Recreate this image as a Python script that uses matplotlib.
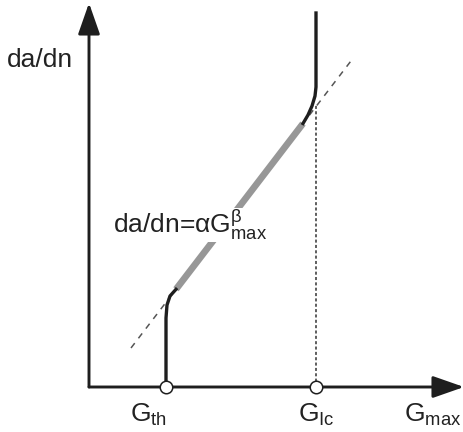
import matplotlib
matplotlib.use("Agg")
import matplotlib.pyplot as plt
import numpy as np

plt.rcParams['font.family'] = ['Liberation Sans', 'DejaVu Sans']
plt.rcParams['mathtext.fontset'] = 'custom'
plt.rcParams['mathtext.rm'] = 'Liberation Sans'
plt.rcParams['mathtext.it'] = 'Liberation Sans:italic'
plt.rcParams['mathtext.sf'] = 'Liberation Sans'

# schematic coordinates (axis origin at 0,0)
G_th = 77
G_ic = 227
x_end = 375
y_end = 384

# Paris-type line: da/dn = a + b*G (in log space)
line_a = -15.8
line_b = 1.305
dash_x = [42, 265]
gray_x = [87, 214]

# threshold / fracture-toughness transitions
low_x = [G_th, G_th, 78, 81, 87]
low_y = [0, 69, 82, 91, 97.7]
up_x = [214, 219, 223, 226, 227, 227]
up_y = [263.5, 272, 281, 291, 300, 374]

ink = '#1e1e1e'

fig = plt.figure(figsize=(4.64, 4.32), dpi=100)
ax = fig.add_axes([0, 0, 1, 1])
ax.set_xlim(-89, 375)
ax.set_ylim(-45, 387)
ax.axis('off')

# axes with arrows
for xy in [(x_end, 0), (0, y_end)]:
    ax.annotate('', xy=xy, xytext=(0, 0), annotation_clip=False,
                arrowprops=dict(arrowstyle='-|>,head_length=1.2,head_width=0.42',
                                lw=2.1, color=ink, shrinkA=0, shrinkB=0,
                                mutation_scale=16))

dx = np.array(dash_x)
ax.plot(dx, line_a + line_b * dx, color='#555555', lw=1.1, dashes=(4, 4), zorder=2)
gx = np.array(gray_x)
ax.plot(gx, line_a + line_b * gx, color='#979797', lw=4.8, solid_capstyle='butt', zorder=3)
ax.plot(low_x, low_y, color=ink, lw=2.4, zorder=4)
ax.plot(up_x, up_y, color=ink, lw=2.4, zorder=4)
ax.plot([G_ic, G_ic], [0, line_a + line_b * G_ic + 2], color='#333333', lw=1.1,
        dashes=(2, 1.5), zorder=2)

ax.plot([G_th, G_ic], [0, 0], 'o', ms=9, mfc='white', mec=ink, mew=1.1, zorder=5)

tc = '#222222'
ax.text(-82, 327, 'da/dn', fontsize=19, color=tc, ha='left', va='center')
ax.text(24, 154, r'da/dn=αG$^{\mathrm{β}}_{\mathrm{max}}$', fontsize=19, color=tc,
        ha='left', va='baseline', zorder=6,
        bbox=dict(facecolor='white', edgecolor='none', pad=0))
ax.text(59, -28, r'G$_{\mathrm{th}}$', fontsize=19, color=tc, ha='center', va='center')
ax.text(G_ic, -28, r'G$_{\mathrm{Ic}}$', fontsize=19, color=tc, ha='center', va='center')
ax.text(344, -28, r'G$_{\mathrm{max}}$', fontsize=19, color=tc, ha='center', va='center')

fig.savefig('out.png', dpi=100, facecolor='white')
